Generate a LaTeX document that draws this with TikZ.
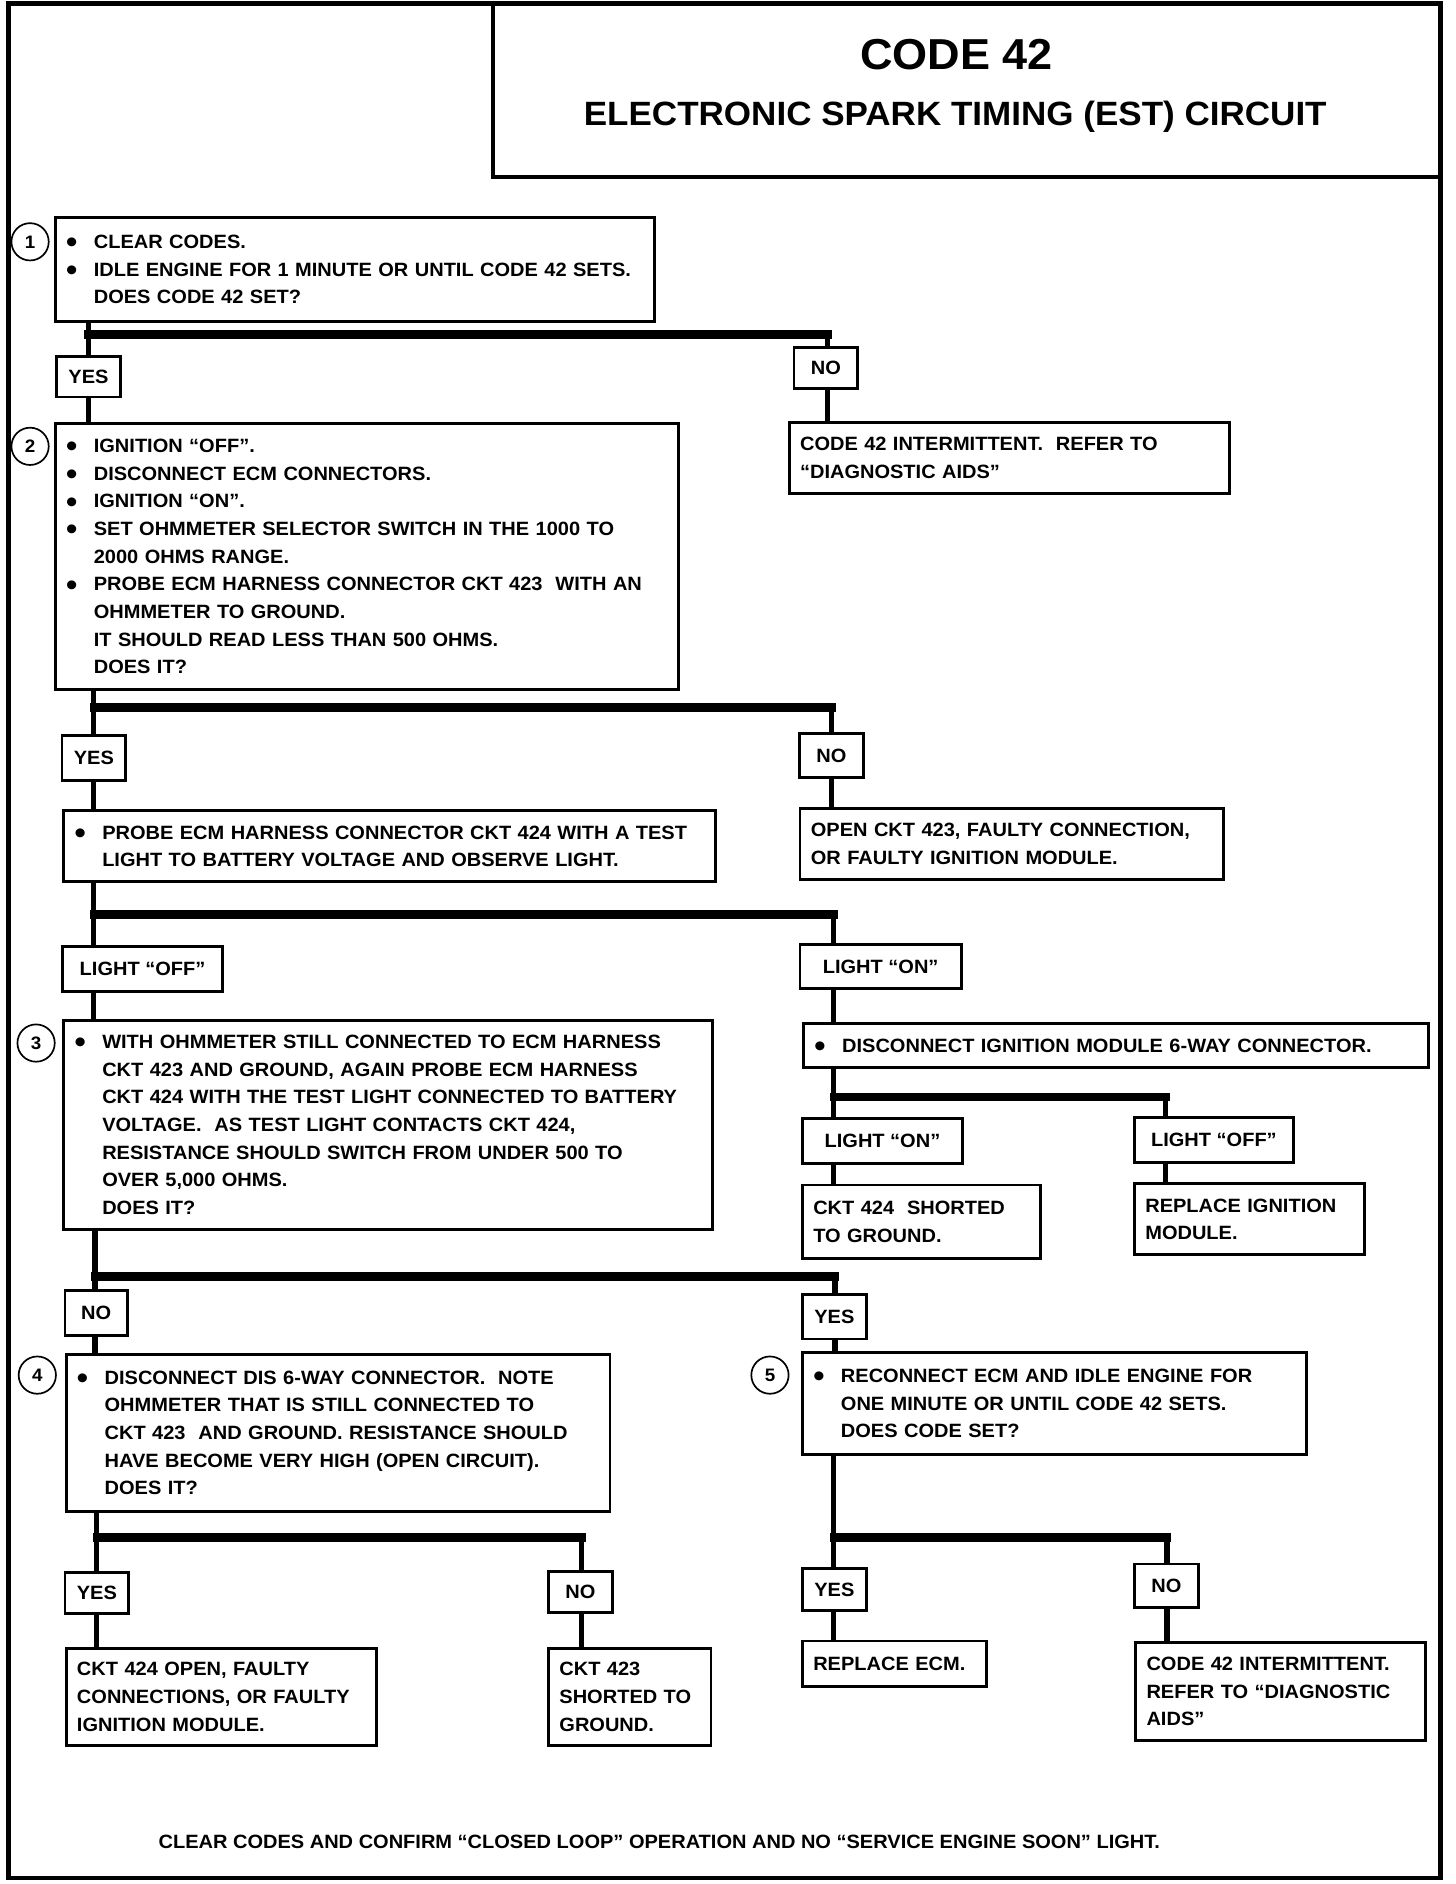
\documentclass[tikz,border=0pt]{standalone}
\usepackage{fontspec}
\setmainfont{Liberation Sans}[FakeStretch=1.04]
\usetikzlibrary{calc}

\newcommand{\bodyfont}{\fontsize{8}{11.5}\selectfont\bfseries}
\newcommand{\bul}{\makebox[11.5pt][l]{\smash{\raisebox{-1.8pt}{\scalebox{1.6}{\textbullet}}}}}
\newcommand{\ind}{\hspace*{11.5pt}}

\begin{document}
\begin{tikzpicture}[x=1pt,y=-1pt,
  box/.style={draw, line width=1.2pt, fill=white, inner xsep=4.5pt, inner ysep=2pt, align=left, font=\bodyfont},
  lbl/.style={draw, line width=1.2pt, fill=white, inner xsep=2pt, inner ysep=0pt, font=\bodyfont},
  num/.style={circle, draw, line width=0.7pt, minimum size=15.5pt, inner sep=0pt, font=\fontsize{7.5}{8}\selectfont\bfseries},
  stem/.style={line width=2.2pt},
  bar/.style={line width=3.5pt, line cap=rect}]

\useasboundingbox (0,0) rectangle (605,783);

% Page frame and heading
\draw[line width=2pt] (3.5,1.5) rectangle (598.5,780.5);
\draw[line width=1.5pt] (205,1.5) rectangle (598.5,73.5);
\node[font=\fontsize{18}{20}\selectfont\bfseries] (code) at (397.5,22.5) {CODE 42};
\node[font=\fontsize{14}{16}\selectfont\bfseries] (title) at (397,48.5) {ELECTRONIC SPARK TIMING (EST) CIRCUIT};

% Step 1
\node[num] (c1) at (12.5,100.5) {1};
\node[box, text width=240pt, minimum height=43pt] (s1) at (147.5,112)
  {\bul CLEAR CODES.\\ \bul IDLE ENGINE FOR 1 MINUTE OR UNTIL CODE 42 SETS.\\ \ind DOES CODE 42 SET?};
\node[lbl, minimum width=26.5pt, minimum height=17pt] (y1) at (36.75,156.5) {YES};
\node[lbl, minimum width=26.5pt, minimum height=17pt] (n1) at (343.25,153) {NO};
\node[box, text width=174pt, minimum height=29.5pt] (r1) at (419.5,190.25)
  {CODE 42 INTERMITTENT.\ \ REFER TO\\ “DIAGNOSTIC AIDS”};
\coordinate (j1) at (36.75,139);
\coordinate (k1) at (344,139);

% Step 2
\node[num] (c2) at (12.5,185.5) {2};
\node[box, text width=250pt, minimum height=110.5pt] (s2) at (152.5,231.25)
  {\bul IGNITION “OFF”.\\ \bul DISCONNECT ECM CONNECTORS.\\ \bul IGNITION “ON”.\\
   \bul SET OHMMETER SELECTOR SWITCH IN THE 1000 TO\\ \ind 2000 OHMS RANGE.\\
   \bul PROBE ECM HARNESS CONNECTOR CKT 423\ \ WITH AN\\ \ind OHMMETER TO GROUND.\\
   \ind IT SHOULD READ LESS THAN 500 OHMS.\\ \ind DOES IT?};
\node[lbl, minimum width=26.5pt, minimum height=18.5pt] (y2) at (39,315) {YES};
\node[lbl, minimum width=26.5pt, minimum height=18pt] (n2) at (345.5,314) {NO};
\node[box, text width=262pt, minimum height=29.5pt] (p2) at (162,351.75)
  {\bul PROBE ECM HARNESS CONNECTOR CKT 424 WITH A TEST\\ \ind LIGHT TO BATTERY VOLTAGE AND OBSERVE LIGHT.};
\node[box, text width=167pt, minimum height=29.5pt] (r2) at (420.5,350.75)
  {OPEN CKT 423, FAULTY CONNECTION,\\ OR FAULTY IGNITION MODULE.};
\coordinate (j2) at (39,294);
\coordinate (k2) at (345.5,294);

% Test light result
\node[lbl, minimum width=66.5pt, minimum height=18.5pt] (o3) at (59.25,402.75) {LIGHT “OFF”};
\node[lbl, minimum width=67pt, minimum height=18.5pt] (on3) at (366,401.75) {LIGHT “ON”};
\coordinate (j3) at (39,380);
\coordinate (k3) at (346.5,380);

% Step 3
\node[num] (c3) at (15,433.5) {3};
\node[box, text width=260.5pt, minimum height=87pt] (s3) at (161.25,467.5)
  {\bul WITH OHMMETER STILL CONNECTED TO ECM HARNESS\\ \ind CKT 423 AND GROUND, AGAIN PROBE ECM HARNESS\\
   \ind CKT 424 WITH THE TEST LIGHT CONNECTED TO BATTERY\\ \ind VOLTAGE.\ \ AS TEST LIGHT CONTACTS CKT 424,\\
   \ind RESISTANCE SHOULD SWITCH FROM UNDER 500 TO\\ \ind OVER 5,000 OHMS.\\ \ind DOES IT?};
\node[box, text width=250.5pt, minimum height=18pt] (d3) at (463.75,434.5)
  {\bul DISCONNECT IGNITION MODULE 6-WAY CONNECTOR.};
\node[lbl, minimum width=66.5pt, minimum height=18.5pt] (on4) at (366.75,474.25) {LIGHT “ON”};
\node[lbl, minimum width=66pt, minimum height=18.5pt] (off4) at (504.5,473.75) {LIGHT “OFF”};
\node[box, text width=90pt, minimum height=30.5pt] (r4a) at (383,507.75)
  {CKT 424\ \ SHORTED\\ TO GROUND.};
\node[box, text width=86.5pt, minimum height=29.5pt] (r4b) at (519.25,506.75)
  {REPLACE IGNITION\\ MODULE.};
\coordinate (j4) at (346.5,456);
\coordinate (k4) at (484.5,456);

% Steps 4 and 5
\node[lbl, minimum width=26pt, minimum height=18.5pt] (n5) at (40,545.75) {NO};
\node[lbl, minimum width=26.5pt, minimum height=18.5pt] (y5) at (346.75,547.25) {YES};
\coordinate (j5) at (39.5,530.5);
\coordinate (k5) at (347,530.5);
\node[num] (c4) at (15.5,571.5) {4};
\node[box, text width=217pt, minimum height=65pt] (s4) at (140.5,595.5)
  {\bul DISCONNECT DIS 6-WAY CONNECTOR.\ \ NOTE\\ \ind OHMMETER THAT IS STILL CONNECTED TO\\
   \ind CKT 423\ \ AND GROUND. RESISTANCE SHOULD\\ \ind HAVE BECOME VERY HIGH (OPEN CIRCUIT).\\ \ind DOES IT?};
\node[num] (c5) at (320,571.5) {5};
\node[box, text width=200.5pt, minimum height=42.5pt] (s5) at (438.25,583.25)
  {\bul RECONNECT ECM AND IDLE ENGINE FOR\\ \ind ONE MINUTE OR UNTIL CODE 42 SETS.\\ \ind DOES CODE SET?};

% Results of step 4
\node[lbl, minimum width=26.5pt, minimum height=17pt] (y6) at (40.25,662) {YES};
\node[lbl, minimum width=26.5pt, minimum height=17pt] (n6) at (241.25,661.5) {NO};
\node[box, text width=120pt, minimum height=40.5pt] (r6a) at (92,705.25)
  {CKT 424 OPEN, FAULTY\\ CONNECTIONS, OR FAULTY\\ IGNITION MODULE.};
\node[box, text width=58.5pt, minimum height=40.5pt] (r6b) at (261.75,705.25)
  {CKT 423\\ SHORTED TO\\ GROUND.};
\coordinate (j6) at (40.25,639);
\coordinate (k6) at (241.75,639);

% Results of step 5
\node[lbl, minimum width=26.5pt, minimum height=17.5pt] (y7) at (346.75,660.75) {YES};
\node[lbl, minimum width=26.5pt, minimum height=18pt] (n7) at (484.75,659) {NO};
\node[box, text width=67.5pt, minimum height=19pt] (r7a) at (371.75,691.5) {REPLACE ECM.};
\node[box, text width=111.5pt, minimum height=41pt] (r7b) at (532.25,703)
  {CODE 42 INTERMITTENT.\\ REFER TO “DIAGNOSTIC\\ AIDS”};
\coordinate (j7) at (346.5,639);
\coordinate (k7) at (485,639);

\node[font=\bodyfont] (foot) at (274,765.5)
  {CLEAR CODES AND CONFIRM “CLOSED LOOP” OPERATION AND NO “SERVICE ENGINE SOON” LIGHT.};

% Connectors
\draw[stem] (s1.south -| j1) -- (y1.north -| j1) (y1.south -| j1) -- (s2.north -| j1)
  (k1) -- (n1.north -| k1) (n1.south -| k1) -- (r1.north -| k1);
\draw[bar] (j1) -- (k1);

\draw[stem] (s2.south -| j2) -- (y2.north -| j2) (y2.south -| j2) -- (p2.north -| j2)
  (k2) -- (n2.north -| k2) (n2.south -| k2) -- (r2.north -| k2);
\draw[bar] (j2) -- (k2);

\draw[stem] (p2.south -| j3) -- (o3.north -| j3) (o3.south -| j3) -- (s3.north -| j3)
  (k3) -- (on3.north -| k3) (on3.south -| k3) -- (d3.north -| k3);
\draw[bar] (j3) -- (k3);

\draw[stem] (d3.south -| j4) -- (on4.north -| j4) (on4.south -| j4) -- (r4a.north -| j4)
  (k4) -- (off4.north -| k4) (off4.south -| k4) -- (r4b.north -| k4);
\draw[bar] (j4) -- (k4);

\draw[stem] (s3.south -| j5) -- (n5.north -| j5) (n5.south -| j5) -- (s4.north -| j5)
  (k5) -- (y5.north -| k5) (y5.south -| k5) -- (s5.north -| k5);
\draw[bar] (j5) -- (k5);

\draw[stem] (s4.south -| j6) -- (y6.north -| j6) (y6.south -| j6) -- (r6a.north -| j6)
  (k6) -- (n6.north -| k6) (n6.south -| k6) -- (r6b.north -| k6);
\draw[bar] (j6) -- (k6);

\draw[stem] (s5.south -| j7) -- (y7.north -| j7) (y7.south -| j7) -- (r7a.north -| j7)
  (k7) -- (n7.north -| k7) (n7.south -| k7) -- (r7b.north -| k7);
\draw[bar] (j7) -- (k7);

\end{tikzpicture}
\end{document}
